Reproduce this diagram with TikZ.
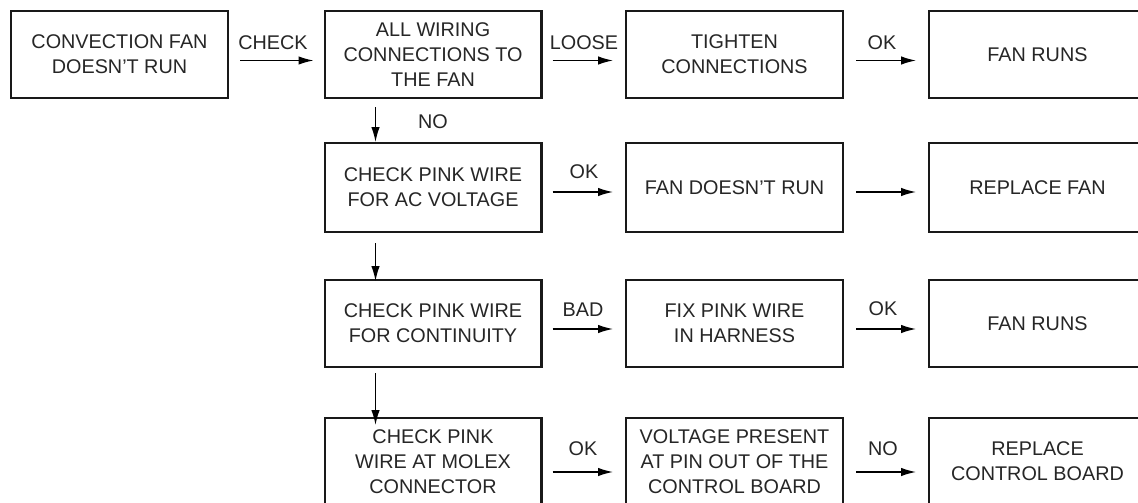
\documentclass[tikz,border=0pt]{standalone}
\usepackage{fontspec}
\setmainfont{Liberation Sans}
\usetikzlibrary{arrows.meta}
\begin{document}
\begin{tikzpicture}[x=1pt,y=-1pt,
  box/.style={draw=black!90,line width=2.4pt,rectangle,minimum width=216.6pt,minimum height=86.6pt,inner sep=0pt,align=center,text=black!85,font=\fontsize{19.8pt}{25pt}\selectfont},
  tallbox/.style={box,minimum height=88.6pt},
  lbl/.style={text=black!85,font=\fontsize{19.8pt}{25pt}\selectfont,inner sep=0pt,anchor=base},
  arr/.style={draw=black,line width=1.4pt,-{Latex[length=15pt,width=8.5pt]}}]
\useasboundingbox (0,0) rectangle (1138,503);
\clip (0,0) rectangle (1138,503);
\fill[white] (0,0) rectangle (1138,503);
% row 1
\node[box] (a1) at (119.5,54.5) {CONVECTION FAN\\DOESN'T RUN};
\node[box] (a2) at (433,54.5) {ALL WIRING\\CONNECTIONS TO\\THE FAN};
\node[box] (a3) at (734.5,54.5) {TIGHTEN\\CONNECTIONS};
\node[box] (a4) at (1037.5,54.5) {FAN RUNS};
% row 2
\node[tallbox] (b2) at (433,187.5) {CHECK PINK WIRE\\FOR AC VOLTAGE};
\node[tallbox] (b3) at (734.5,187.5) {FAN DOESN'T RUN};
\node[tallbox] (b4) at (1037.5,187.5) {REPLACE FAN};
% row 3
\node[box] (c2) at (433,323.5) {CHECK PINK WIRE\\FOR CONTINUITY};
\node[box] (c3) at (734.5,323.5) {FIX PINK WIRE\\IN HARNESS};
\node[box] (c4) at (1037.5,323.5) {FAN RUNS};
% row 4
\node[box] (d2) at (433,461.5) {CHECK PINK\\WIRE AT MOLEX\\CONNECTOR};
\node[box] (d3) at (734.5,461.5) {VOLTAGE PRESENT\\AT PIN OUT OF THE\\CONTROL BOARD};
\node[box] (d4) at (1037.5,461.5) {REPLACE\\CONTROL BOARD};
% horizontal arrows
\draw[arr] ([xshift=11pt,yshift=-6pt]a1.east) -- ([xshift=-10pt,yshift=-6pt]a2.west);
\draw[arr] ([xshift=10pt,yshift=-6pt]a2.east) -- ([xshift=-12pt,yshift=-6pt]a3.west);
\draw[arr] ([xshift=12pt,yshift=-6pt]a3.east) -- ([xshift=-12pt,yshift=-6pt]a4.west);
\draw[arr] ([xshift=10pt,yshift=-4.5pt]b2.east) -- ([xshift=-12pt,yshift=-4.5pt]b3.west);
\draw[arr] ([xshift=12pt,yshift=-4.5pt]b3.east) -- ([xshift=-12pt,yshift=-4.5pt]b4.west);
\draw[arr] ([xshift=10pt,yshift=-5.5pt]c2.east) -- ([xshift=-12pt,yshift=-5.5pt]c3.west);
\draw[arr] ([xshift=12pt,yshift=-5.5pt]c3.east) -- ([xshift=-12pt,yshift=-5.5pt]c4.west);
\draw[arr] ([xshift=10pt,yshift=-10.5pt]d2.east) -- ([xshift=-12pt,yshift=-10.5pt]d3.west);
\draw[arr] ([xshift=12pt,yshift=-10.5pt]d3.east) -- ([xshift=-12pt,yshift=-10.5pt]d4.west);
% vertical arrows
\draw[arr] ([xshift=52pt,yshift=-8pt]a2.south west) -- ([xshift=52pt]b2.north west);
\draw[arr] ([xshift=52pt,yshift=-10pt]b2.south west) -- ([xshift=52pt,yshift=-2pt]c2.north west);
\draw[arr] ([xshift=52pt,yshift=-5pt]c2.south west) -- ([xshift=52pt,yshift=-8pt]d2.north west);
% labels
\node[lbl] (l1) at (273,50) {CHECK};
\node[lbl] (l2) at (584,50) {LOOSE};
\node[lbl] (l3) at (882,50) {OK};
\node[lbl] (l4) at (433,128) {NO};
\node[lbl] (l5) at (584,178) {OK};
\node[lbl] (l6) at (583,316) {BAD};
\node[lbl] (l7) at (883,315) {OK};
\node[lbl] (l8) at (583,455) {OK};
\node[lbl] (l9) at (883,455) {NO};
\end{tikzpicture}
\end{document}
